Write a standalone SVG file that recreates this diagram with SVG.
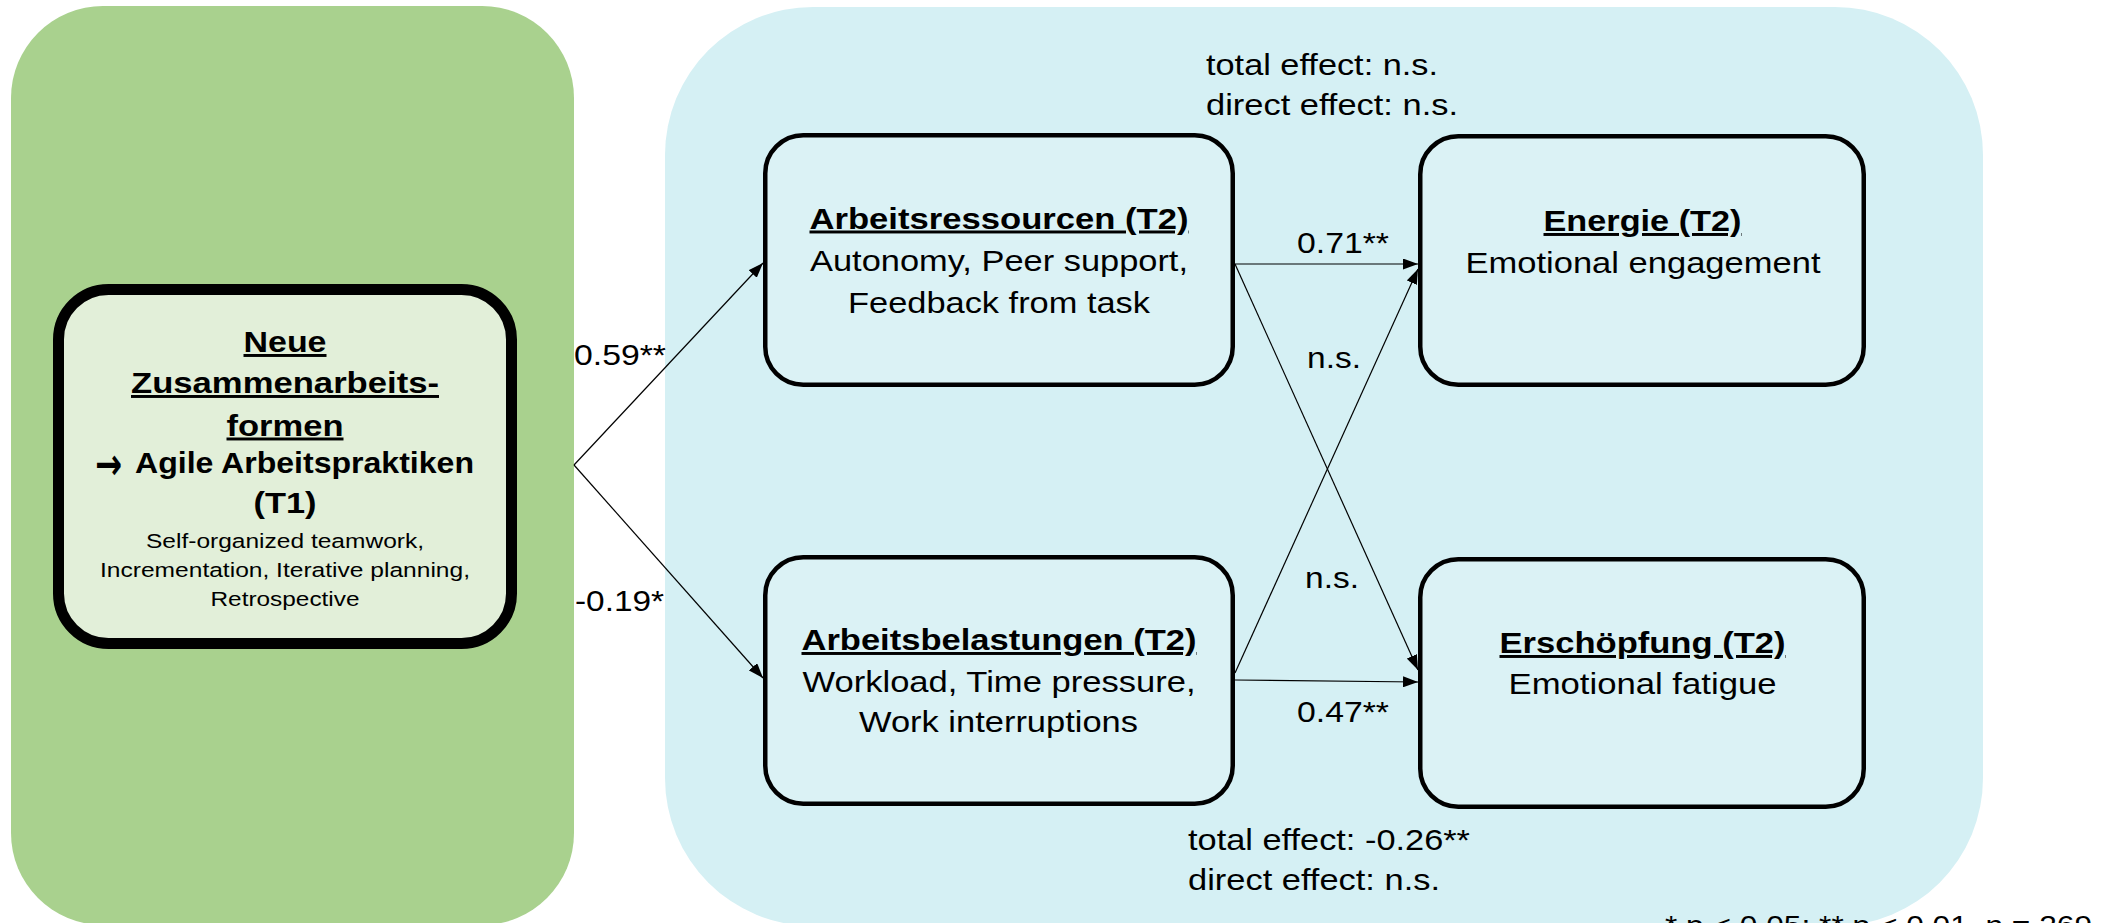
<svg xmlns="http://www.w3.org/2000/svg" width="2121" height="923" viewBox="0 0 2121 923">
<style>
text{font-family:"Liberation Sans",Arial,sans-serif;fill:#000}
.b{font-weight:bold;text-decoration:underline}
.h{font-weight:bold}
.t{font-size:29.5px}
.s{font-size:20.5px}
.m{text-anchor:middle}
.node{fill:#dbf2f5;stroke:#000;stroke-width:4.5}
.conn line{stroke:#000;stroke-width:1.2;fill:none;marker-end:url(#ah)}
</style>
<defs>
<marker id="ah" markerUnits="userSpaceOnUse" markerWidth="15" markerHeight="11" refX="15" refY="5.5" orient="auto">
<path d="M0,0 L15,5.5 L0,11 z" fill="#000"/>
</marker>
</defs>
<g id="panels">
<rect x="11" y="6" width="563" height="919" rx="92" ry="92" fill="#a9d18e"/>
<rect x="665" y="7" width="1318" height="919" rx="148" ry="148" fill="#d5f0f4"/>
</g>
<g id="node-neue">
<rect x="58.5" y="289.5" width="453" height="354" rx="50" ry="50" fill="#e2efd9" stroke="#000" stroke-width="11"/>
<text class="b t m" x="285" y="352" font-size="30" textLength="83" lengthAdjust="spacingAndGlyphs">Neue</text>
<text class="b t m" x="285" y="393" font-size="30" textLength="308" lengthAdjust="spacingAndGlyphs">Zusammenarbeits-</text>
<text class="b t m" x="285" y="435.5" font-size="30" textLength="117" lengthAdjust="spacingAndGlyphs">formen</text>
<text class="h m" x="108.5" y="479" style="font-family:'DejaVu Sans',sans-serif;font-size:44px" textLength="27" lengthAdjust="spacingAndGlyphs">→</text>
<text class="h t" x="135" y="473" textLength="339" lengthAdjust="spacingAndGlyphs">Agile Arbeitspraktiken</text>
<text class="h t m" x="285" y="513" textLength="63" lengthAdjust="spacingAndGlyphs">(T1)</text>
<text class="s m" x="285" y="547.5" textLength="278" lengthAdjust="spacingAndGlyphs">Self-organized teamwork,</text>
<text class="s m" x="285" y="576.5" textLength="370" lengthAdjust="spacingAndGlyphs">Incrementation, Iterative planning,</text>
<text class="s m" x="285" y="606" textLength="149" lengthAdjust="spacingAndGlyphs">Retrospective</text>
</g>
<g id="node-ressourcen">
<rect class="node" x="765.25" y="135.25" width="467.5" height="249.5" rx="38" ry="38"/>
<text class="b t m" x="999" y="228.5" textLength="379" lengthAdjust="spacingAndGlyphs">Arbeitsressourcen (T2)</text>
<text class="t m" x="999" y="270.5" textLength="378" lengthAdjust="spacingAndGlyphs">Autonomy, Peer support,</text>
<text class="t m" x="999" y="312.5" textLength="302" lengthAdjust="spacingAndGlyphs">Feedback from task</text>
</g>
<g id="node-belastungen">
<rect class="node" x="765.25" y="557.25" width="467.5" height="246.5" rx="38" ry="38"/>
<text class="b t m" x="999" y="650" textLength="395" lengthAdjust="spacingAndGlyphs">Arbeitsbelastungen (T2)</text>
<text class="t m" x="999" y="692" textLength="393" lengthAdjust="spacingAndGlyphs">Workload, Time pressure,</text>
<text class="t m" x="998.5" y="732" textLength="279" lengthAdjust="spacingAndGlyphs">Work interruptions</text>
</g>
<g id="node-energie">
<rect class="node" x="1420.25" y="136.25" width="443.5" height="248.5" rx="38" ry="38"/>
<text class="b t m" x="1642.5" y="231" textLength="198" lengthAdjust="spacingAndGlyphs">Energie (T2)</text>
<text class="t m" x="1643" y="273" textLength="355" lengthAdjust="spacingAndGlyphs">Emotional engagement</text>
</g>
<g id="node-erschoepfung">
<rect class="node" x="1420.25" y="559.25" width="443.5" height="247.5" rx="38" ry="38"/>
<text class="b t m" x="1642.5" y="653" textLength="286" lengthAdjust="spacingAndGlyphs">Erschöpfung (T2)</text>
<text class="t m" x="1642.5" y="694" textLength="268" lengthAdjust="spacingAndGlyphs">Emotional fatigue</text>
</g>
<g id="connectors" class="conn">
<line x1="574" y1="465" x2="763" y2="263"/>
<line x1="574" y1="465" x2="763" y2="678"/>
<line x1="1235" y1="264" x2="1418" y2="264"/>
<line x1="1235" y1="264" x2="1418" y2="670"/>
<line x1="1235" y1="673" x2="1418" y2="269"/>
<line x1="1235" y1="680" x2="1418" y2="682"/>
</g>
<g id="labels">
<text class="t" x="574" y="365" textLength="92" lengthAdjust="spacingAndGlyphs">0.59**</text>
<text class="t" x="575" y="611" textLength="89" lengthAdjust="spacingAndGlyphs">-0.19*</text>
<text class="t" x="1297" y="253" textLength="92" lengthAdjust="spacingAndGlyphs">0.71**</text>
<text class="t" x="1307" y="368" textLength="54" lengthAdjust="spacingAndGlyphs">n.s.</text>
<text class="t" x="1305" y="588" textLength="54" lengthAdjust="spacingAndGlyphs">n.s.</text>
<text class="t" x="1297" y="722" textLength="92" lengthAdjust="spacingAndGlyphs">0.47**</text>
<text class="t" x="1206" y="75" textLength="232" lengthAdjust="spacingAndGlyphs">total effect: n.s.</text>
<text class="t" x="1206" y="115" textLength="252" lengthAdjust="spacingAndGlyphs">direct effect: n.s.</text>
<text class="t" x="1188" y="850" textLength="282" lengthAdjust="spacingAndGlyphs">total effect: -0.26**</text>
<text class="t" x="1188" y="890" textLength="252" lengthAdjust="spacingAndGlyphs">direct effect: n.s.</text>
<text x="1665" y="935" font-size="28" textLength="427" lengthAdjust="spacingAndGlyphs">* p &lt; 0.05; ** p &lt; 0.01, n = 269</text>
</g>
</svg>
